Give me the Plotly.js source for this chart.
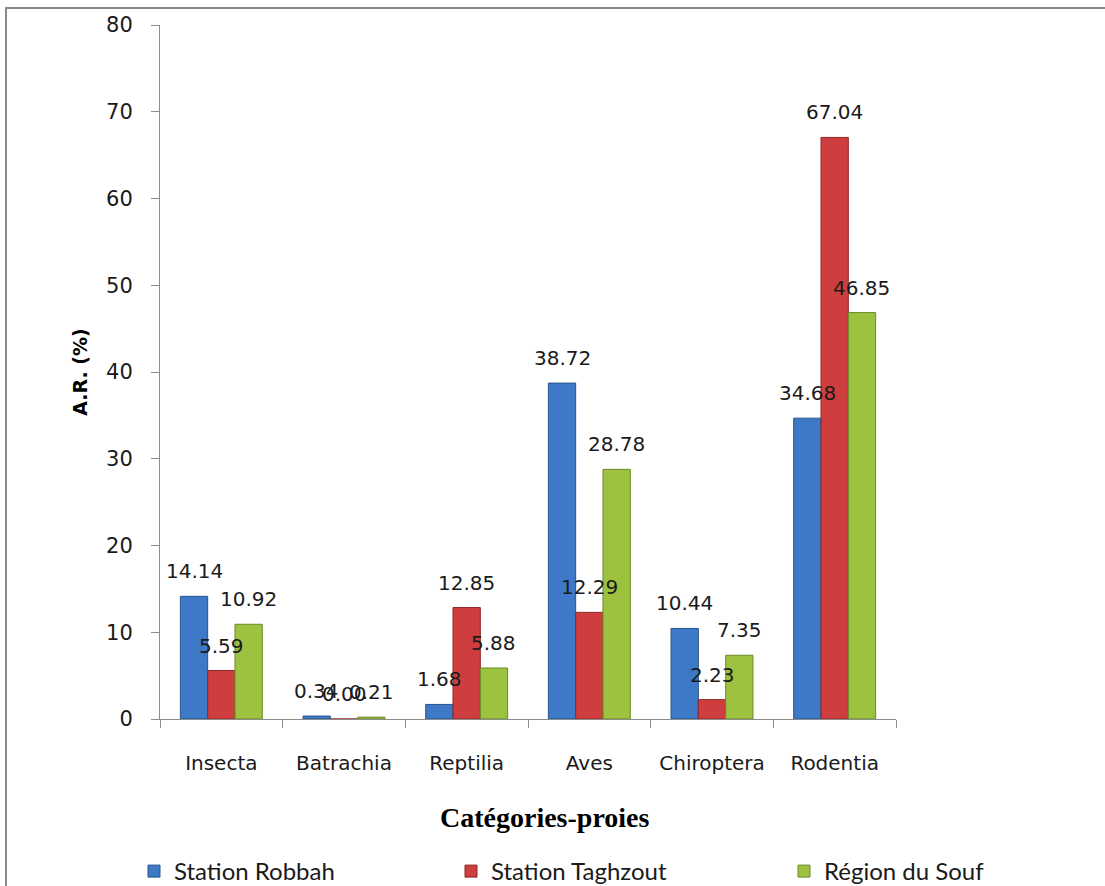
<!DOCTYPE html>
<html>
<head>
<meta charset="utf-8">
<script src="https://cdn.plot.ly/plotly-3.0.1.min.js"></script>
<style>
html,body{margin:0;padding:0;background:#fff;overflow:hidden;}
#chart{width:1105px;height:886px;position:absolute;left:0;top:0;}
#frame{position:absolute;left:5px;top:7px;width:1200px;height:1000px;border:2px solid #8a8a8a;pointer-events:none;}
</style>
</head>
<body>
<div id="chart"></div>
<div id="frame"></div>
<script>
const categories = ["Insecta", "Batrachia", "Reptilia", "Aves", "Chiroptera", "Rodentia"];
const seriesNames = ["Station Robbah", "Station Taghzout", "Région du Souf"];
const robbah   = [14.14, 0.34, 1.68, 38.72, 10.44, 34.68];
const taghzout = [5.59, 0.00, 12.85, 12.29, 2.23, 67.04];
const souf     = [10.92, 0.21, 5.88, 28.78, 7.35, 46.85];
const yTicks = [0, 10, 20, 30, 40, 50, 60, 70, 80];

const seriesValues = [robbah, taghzout, souf];
const fills = ["#3d79c7", "#cf3e3e", "#9cc23f"];
const edges = ["#26558f", "#8e2626", "#6a8a2a"];
const legendLeft = [134, 451, 784];

const W = 1105, H = 886;
const margin = {l: 160, r: 209, t: 25, b: 167};
const bargap = 0.332;
const plotW = W - margin.l - margin.r;
const plotH = H - margin.t - margin.b;
const catPx = plotW / categories.length;
const barPx = catPx * (1 - bargap) / seriesValues.length;
const legendIds = ["legend", "legend2", "legend3"];

const traces = seriesValues.map((vals, i) => ({
  type: "bar",
  name: seriesNames[i],
  x: categories,
  y: vals,
  legend: legendIds[i],
  marker: {color: fills[i], line: {color: edges[i], width: 1}},
  hoverinfo: "x+y+name"
}));

const labelFont = {family: "DejaVu Sans, Verdana, sans-serif", size: 20, color: "#1a1a1a"};
const annotations = [];
seriesValues.forEach((vals, i) => {
  vals.forEach((v, j) => {
    annotations.push({
      x: categories[j], y: v, xref: "x", yref: "y",
      text: v.toFixed(2), showarrow: false,
      xanchor: "center", yanchor: "middle",
      xshift: (i - (seriesValues.length - 1) / 2) * barPx,
      yshift: 25,
      font: labelFont
    });
  });
});
annotations.push({
  text: "Catégories-proies", xref: "paper", yref: "paper",
  x: (545 - margin.l) / plotW, y: -(817 - (H - margin.b)) / plotH,
  xanchor: "center", yanchor: "middle",
  showarrow: false,
  font: {family: "Liberation Serif, Times New Roman, serif", size: 28, color: "#000", weight: "bold"}
});

const layout = {
  width: W, height: H,
  margin: margin,
  paper_bgcolor: "#ffffff",
  plot_bgcolor: "#ffffff",
  barmode: "group",
  bargap: bargap,
  bargroupgap: 0,
  showlegend: true,
  xaxis: {
    type: "category",
    showline: true, linecolor: "#8c8c8c", linewidth: 1,
    ticks: "outside", tickson: "boundaries", ticklen: 8, tickcolor: "#8c8c8c",
    ticklabelstandoff: 26,
    showgrid: false, zeroline: false,
    tickfont: {family: "DejaVu Sans, Verdana, sans-serif", size: 20, color: "#1a1a1a"},
    fixedrange: true
  },
  yaxis: {
    range: [0, 80], tickvals: yTicks, ticktext: yTicks.map(String),
    showline: true, linecolor: "#8c8c8c", linewidth: 1,
    ticks: "outside", ticklen: 8, tickcolor: "#8c8c8c",
    ticklabelstandoff: 14,
    showgrid: false, zeroline: false,
    tickfont: {family: "DejaVu Sans, Verdana, sans-serif", size: 21, color: "#1a1a1a"},
    title: {text: "A.R. (%)", standoff: 13,
      font: {family: "DejaVu Sans, Verdana, sans-serif", size: 19, color: "#000", weight: "bold"}},
    automargin: false,
    fixedrange: true
  },
  annotations: annotations
};
legendIds.forEach((id, i) => {
  layout[id] = {
    orientation: "h",
    xref: "container", yref: "container",
    x: legendLeft[i] / W, y: 1 - 849 / H, xanchor: "left", yanchor: "top",
    font: {family: "Lato, Liberation Sans, sans-serif", size: 24, color: "#1a1a1a"},
    bgcolor: "rgba(0,0,0,0)",
    itemclick: false
  };
});

Plotly.newPlot("chart", traces, layout, {displayModeBar: false, staticPlot: true});
</script>
</body>
</html>
